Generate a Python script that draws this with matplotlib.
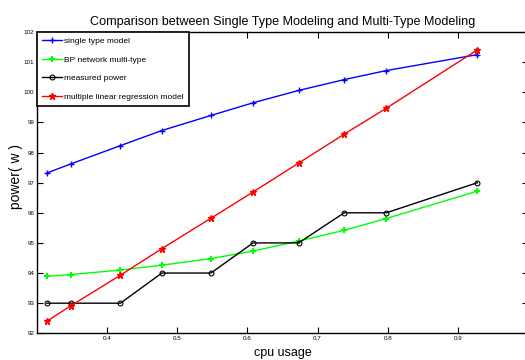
import matplotlib
matplotlib.use("Agg")
import matplotlib.pyplot as plt

cpu_usage = [0.314, 0.348, 0.419, 0.478, 0.548, 0.608, 0.673, 0.738, 0.798, 0.928]
single_type = [97.32, 97.62, 98.23, 98.73, 99.23, 99.65, 100.06, 100.42, 100.72, 101.25]
bp_network = [93.89, 93.95, 94.10, 94.26, 94.48, 94.73, 95.06, 95.42, 95.81, 96.72]
measured = [93, 93, 93, 94, 94, 95, 95, 96, 96, 97]
mlr_model = [92.40, 92.91, 93.93, 94.81, 95.82, 96.69, 97.65, 98.61, 99.47, 101.41]

xticks = [0.4, 0.5, 0.6, 0.7, 0.8, 0.9]
yticks = [92, 93, 94, 95, 96, 97, 98, 99, 100, 101, 102]

plt.rcParams['font.family'] = ['Liberation Sans', 'DejaVu Sans']

fig = plt.figure(figsize=(5.25, 3.6), dpi=100)
ax = fig.add_axes([37/525, (360-333.3)/360, (528-37)/525, (333.3-32)/360])

ax.plot(cpu_usage, single_type, color='#0000ff', lw=1, marker='+', ms=5, mew=1,
        label='single type model')
ax.plot(cpu_usage, bp_network, color='#00ff00', lw=1, marker='+', ms=4.5, mew=1.5,
        label='BP network multi-type')
ax.plot(cpu_usage, measured, color='black', lw=1, marker='o', ms=3.5, mew=0.8,
        mfc='none', label='measured power')
ax.plot(cpu_usage, mlr_model, color='#ff0000', lw=1, marker='*', ms=5, mew=1,
        label='multiple linear regression model')

ax.set_xlim(0.3, 1.0)
ax.set_ylim(92, 102)
ax.set_xticks(xticks)
ax.set_xticklabels([f"{t:.1f}" for t in xticks])
ax.set_yticks(yticks)
ax.set_yticklabels([str(t) for t in yticks])
ax.tick_params(direction='in', length=4, width=0.8, labelsize=4.5,
               top=True, right=True, pad=2)
for s in ax.spines.values():
    s.set_linewidth(1)
    s.set_color('black')

ax.set_title('Comparison between Single Type Modeling and Multi-Type Modeling',
             fontsize=9.05, pad=5)
ax.set_xlabel('cpu usage', fontsize=9, labelpad=4)
ax.set_ylabel('power( w )', fontsize=10, labelpad=0)
ax.yaxis.set_label_coords(-0.029, 0.52)

leg = ax.legend(loc='upper left', fontsize=6.0, frameon=True, fancybox=False,
                borderaxespad=0, handlelength=2.4, handletextpad=0.3,
                labelspacing=1.3, borderpad=0.6, framealpha=1)
leg.get_frame().set_edgecolor('black')
leg.get_frame().set_linewidth(1.2)

fig.savefig('out.png', dpi=100)
